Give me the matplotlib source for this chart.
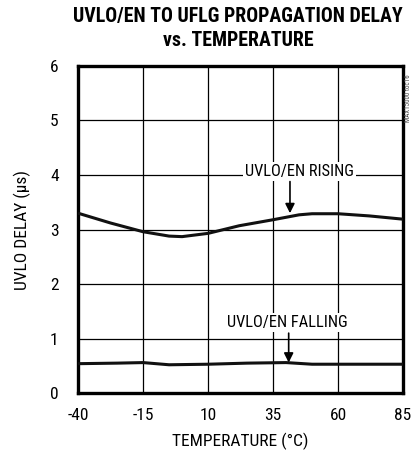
import matplotlib

matplotlib.use("Agg")
import matplotlib.pyplot as plt
from matplotlib import font_manager

# prefer a narrow face for the datasheet look, fall back to DejaVu
installed = {f.name for f in font_manager.fontManager.ttflist}
narrow = [n for n in ("Liberation Sans Narrow", "Roboto Condensed", "Open Sans Condensed",
                      "DejaVu Sans Condensed") if n in installed]
plt.rcParams["font.family"] = narrow[:1] + ["DejaVu Sans"]
plt.rcParams["font.stretch"] = "condensed"
plt.rcParams["axes.unicode_minus"] = False

# propagation delay (us) vs temperature (C)
temp_rise = [-40, -27.5, -15, -5, 0, 10, 22, 35, 45, 50, 60, 72, 85]
delay_rise = [3.30, 3.12, 2.96, 2.88, 2.87, 2.93, 3.07, 3.18, 3.27, 3.29, 3.29, 3.25, 3.19]

temp_fall = [-40, -25, -15, -5, 10, 25, 40, 50, 60, 85]
delay_fall = [0.54, 0.55, 0.56, 0.52, 0.53, 0.55, 0.56, 0.53, 0.53, 0.53]

x_ticks = [-40, -15, 10, 35, 60, 85]
y_ticks = [0, 1, 2, 3, 4, 5, 6]

fig = plt.figure(figsize=(4.13, 4.55), dpi=100)
ax = fig.add_axes([0.189, 0.136, 0.787, 0.719])

ax.plot(temp_rise, delay_rise, color="#111111", lw=2.2, solid_capstyle="butt", zorder=3)
ax.plot(temp_fall, delay_fall, color="#111111", lw=2.2, solid_capstyle="butt", zorder=3)

ax.set_xlim(-40, 85)
ax.set_ylim(0, 6)
ax.set_xticks(x_ticks)
ax.set_yticks(y_ticks)
ax.grid(True, color="black", lw=0.9)
ax.tick_params(length=0, labelsize=12.5)
ax.tick_params(axis="x", pad=11)
ax.tick_params(axis="y", pad=14)
for spine in ax.spines.values():
    spine.set_linewidth(2.4)
ax.set_xlabel("TEMPERATURE (°C)", fontsize=12.5, labelpad=7)
ax.set_ylabel("UVLO DELAY (µs)", fontsize=12.5, labelpad=14)

box = dict(facecolor="white", edgecolor="none", pad=1.5)
rise_lbl = ax.text(45, 4.07, "UVLO/EN RISING", ha="center", va="center", fontsize=11.5,
                   bbox=box, zorder=4)
ax.annotate("", xy=(41.5, 3.30), xytext=(41.5, 3.88),
            arrowprops=dict(arrowstyle="-|>", color="black", lw=1.2,
                            mutation_scale=14, shrinkA=0, shrinkB=0), zorder=4)
fall_lbl = ax.text(40.5, 1.30, "UVLO/EN FALLING", ha="center", va="center", fontsize=11.5,
                   bbox=box, zorder=4)
ax.annotate("", xy=(41, 0.56), xytext=(41, 1.10),
            arrowprops=dict(arrowstyle="-|>", color="black", lw=1.2,
                            mutation_scale=14, shrinkA=0, shrinkB=0), zorder=4)

t1 = fig.text(0.577, 0.963, "UVLO/EN TO UFLG PROPAGATION DELAY", ha="center", va="center",
              fontsize=15, fontweight="bold")
t2 = fig.text(0.577, 0.910, "vs. TEMPERATURE", ha="center", va="center",
              fontsize=15, fontweight="bold")
fig.text(0.988, 0.785, "MAX15000 toc16", rotation=90, ha="center", va="center",
         fontsize=5, color="#444444")


def fit_width(artist, width_px, cap=None):
    """Rescale a text's font so it spans width_px pixels."""
    renderer = fig.canvas.get_renderer()
    w = artist.get_window_extent(renderer).width
    size = artist.get_fontsize() * width_px / w
    if cap:
        size = min(size, cap)
    artist.set_fontsize(size)
    return size


title_size = fit_width(t1, 332, cap=17)
t2.set_fontsize(title_size)
lbl_size = fit_width(rise_lbl, 109, cap=13)
fall_lbl.set_fontsize(lbl_size)

fig.savefig("out.png", dpi=100)
